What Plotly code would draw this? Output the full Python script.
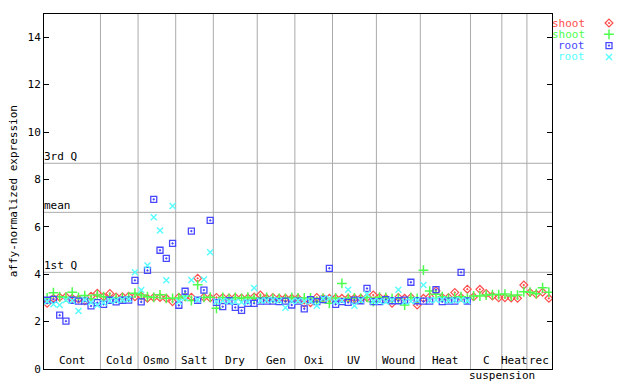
import plotly.graph_objects as go

# ---------------- data ----------------
groups = ["Cont", "Cold", "Osmo", "Salt", "Dry", "Gen", "Oxi", "UV", "Wound", "Heat", "C", "Heat", "rec"]
group_sizes = [9, 6, 6, 6, 7, 6, 6, 7, 7, 8, 5, 4, 4]

shoot_a = [2.77, 2.98, 3.03, 3.05, 2.98, 2.95, 2.88, 3.07, 3.20,
           3.05, 3.19, 3.04, 3.05, 3.07, 3.05,
           3.08, 2.99, 3.02, 3.02, 2.98, 2.84,
           3.03, 3.05, 3.03, 3.83, 3.03, 3.00,
           3.02, 3.02, 3.00, 3.02, 3.00, 3.00, 3.04,
           3.12, 2.98, 3.02, 2.98, 2.98, 2.98,
           2.98, 2.77, 2.80, 3.02, 2.98, 2.98,
           2.98, 2.98, 2.98, 2.98, 2.98, 3.02, 3.12,
           3.02, 2.98, 2.77, 3.02, 2.98, 3.02, 2.70,
           2.98, 3.05, 3.30, 3.02, 3.02, 3.23, 3.02, 3.37,
           3.05, 3.36, 3.19, 3.08, 3.01,
           3.01, 3.00, 2.98, 3.54,
           3.23, 3.15, 3.24, 2.98]
shoot_b = [3.00, 3.22, 3.05, 3.03, 3.24, 3.02, 3.10, 2.95, 3.12,
           3.05, 3.02, 2.98, 3.00, 3.03, 3.20,
           3.12, 3.05, 3.02, 3.13, 2.98, 2.98,
           3.00, 3.07, 2.89, 3.55, 3.02, 3.03,
           2.56, 3.02, 2.98, 3.02, 2.98, 3.03, 2.98,
           2.98, 3.02, 2.98, 2.98, 2.98, 3.02,
           3.00, 3.00, 3.00, 2.84, 2.98, 2.77,
           3.00, 3.61, 2.98, 3.00, 2.98, 3.02, 2.84,
           3.03, 3.02, 2.98, 2.98, 2.70, 3.02, 2.98,
           4.17, 3.29, 3.15, 3.05, 2.98, 3.02, 3.05, 2.98,
           3.08, 3.08, 3.12, 3.14, 3.14,
           3.16, 3.08, 3.12, 3.26,
           3.24, 3.18, 3.43, 3.24]
root_a = [2.90, 2.94, 2.27, 2.02, 2.90, 2.86, 2.86, 2.66, 2.80,
          2.73, 2.90, 2.83, 2.90, 2.91, 3.74,
          2.83, 4.16, 7.16, 5.01, 4.67, 5.30,
          2.69, 3.28, 5.82, 2.90, 3.33, 6.27,
          2.81, 2.63, 2.88, 2.60, 2.47, 2.77, 2.77,
          2.86, 2.86, 2.86, 2.84, 2.86, 2.70,
          2.86, 2.54, 2.93, 2.84, 2.93, 4.25,
          2.73, 2.84, 2.81, 2.91, 2.88, 3.40, 2.84,
          2.84, 2.93, 2.88, 2.88, 2.91, 3.66, 2.88,
          2.86, 2.86, 3.35, 2.84, 2.86, 2.86, 4.08, 2.87,
          None, None, None, None, None,
          None, None, None, None,
          None, None, None, None]
root_b = [2.85, 2.73, 2.70, 2.91, 2.88, 2.45, 2.92, 2.82, 2.70,
          2.80, 2.88, 2.90, 2.92, 2.95, 4.08,
          3.33, 4.37, 6.40, 5.84, 3.74, 6.88,
          2.85, 3.00, 3.76, 2.92, 3.78, 4.93,
          2.85, 2.88, 2.85, 2.84, 2.82, 2.84, 3.42,
          2.88, 2.90, 2.92, 2.88, 2.58, 2.86,
          2.88, 2.86, 2.85, 2.67, 2.98, 2.98,
          2.85, 2.88, 3.34, 2.67, 2.90, 3.16, 2.86,
          2.86, 2.84, 2.91, 3.34, 2.84, 2.86, 2.91,
          3.54, 2.90, 2.91, 2.93, 2.88, 2.90, 2.91, 2.88,
          None, None, None, None, None,
          None, None, None, None,
          None, None, None, None]

quartile_labels = ["1st Q", "mean", "3rd Q"]
quartile_values = [4.08, 6.61, 8.68]

series_names = ["shoot", "shoot", "root", "root"]
series_values = [shoot_a, shoot_b, root_a, root_b]

# ---------------- styles ----------------
colors = ["#ff4d4d", "#4dff4d", "#4848ff", "#55ffff"]
symbols = ["diamond-open-dot", "cross-thin-open", "square-open-dot", "x-thin-open"]
sizes = [6, 7, 6, 6]
widths = [1.2, 1.5, 1.3, 1.4]
FONT = "DejaVu Sans Mono"
FS = 11
GRID = "#aaaaaa"

W, H = 640, 384
OFF = 8  # page body margin of the browser
PL, PR, PT, PB = 44 - OFF, 552 - OFF, 13.5 - OFF, 369 - OFF  # plot box in figure pixels

n = len(shoot_a)
xs = list(range(n))

fig = go.Figure()
for name, vals, c, s, sz, lw in zip(series_names, series_values, colors, symbols, sizes, widths):
    fig.add_trace(go.Scatter(
        x=xs, y=vals, mode="markers", name=name, showlegend=False,
        marker=dict(symbol=s, size=sz, color=c, line=dict(color=c, width=lw)),
        cliponaxis=True,
    ))

# group separators and labels
bounds = []
acc = 0
for g, k in zip(groups, group_sizes):
    start = acc
    acc += k
    center = (start + acc - 1) / 2
    fig.add_annotation(x=center, y=0, xref="x", yref="y", text=g, showarrow=False,
                       xanchor="center", yanchor="bottom", yshift=0,
                       font=dict(family=FONT, size=FS, color="black"))
    if acc < n:
        bounds.append(acc - 0.5)

for b in bounds:
    fig.add_shape(type="line", xref="x", yref="y domain", x0=b, x1=b, y0=0, y1=1,
                  line=dict(color=GRID, width=1), layer="below")

# "suspension" beneath the C group
c_idx = groups.index("C")
c_end = sum(group_sizes[:c_idx + 1]) - 0.5
fig.add_annotation(x=c_end, y=0, xref="x", yref="y", text="suspension", showarrow=False,
                   xanchor="center", yanchor="top", yshift=1, borderpad=0,
                   font=dict(family=FONT, size=FS, color="black"))

# quartile lines
for lab, v in zip(quartile_labels, quartile_values):
    fig.add_shape(type="line", xref="x domain", yref="y", x0=0, x1=1, y0=v, y1=v,
                  line=dict(color=GRID, width=1), layer="below")
    fig.add_annotation(x=0, y=v, xref="x domain", yref="y", text=lab, showarrow=False,
                       xanchor="left", yanchor="bottom", yshift=-2, xshift=-2,
                       font=dict(family=FONT, size=FS, color="black"))

# y title
fig.add_annotation(x=(13 - OFF) / W, y=1 - ((PT + PB) / 2) / H, xref="paper", yref="paper",
                   text="affy-normalized expression", textangle=-90, showarrow=False,
                   xanchor="center", yanchor="middle", borderpad=0,
                   font=dict(family=FONT, size=FS, color="black"))

# custom legend (text then marker) on a pixel-space helper axis
row_h = 11.3
row0 = 23 - OFF
for i, (name, c, s, sz, lw) in enumerate(zip(series_names, colors, symbols, sizes, widths)):
    yy = row0 + i * row_h
    fig.add_annotation(x=586 - OFF - PR, y=yy, xref="x2", yref="y2", text=name, showarrow=False,
                       xanchor="right", yanchor="middle", borderpad=0,
                       font=dict(family=FONT, size=FS, color=c))
    fig.add_trace(go.Scatter(x=[609 - OFF - PR], y=[yy], xaxis="x2", yaxis="y2", mode="markers",
                             showlegend=False, hoverinfo="skip",
                             marker=dict(symbol=s, size=sz, color=c, line=dict(color=c, width=lw))))

fig.update_layout(
    width=W, height=H, autosize=False,
    margin=dict(l=0, r=0, t=0, b=0, autoexpand=False),
    paper_bgcolor="white", plot_bgcolor="white",
    showlegend=False,
    xaxis=dict(domain=[PL / W, PR / W], range=[-0.5, n - 0.5], showgrid=False, zeroline=False,
               showticklabels=False, ticks="", showline=True, linecolor="black", linewidth=1,
               mirror=True, fixedrange=True, automargin=False),
    yaxis=dict(domain=[1 - PB / H, 1 - PT / H], range=[0, 15], showgrid=False, zeroline=False,
               tickvals=list(range(0, 15, 2)), ticks="inside", ticklen=5, tickcolor="black",
               showline=True, linecolor="black", linewidth=1, mirror="ticks",
               tickfont=dict(family=FONT, size=FS, color="black"), fixedrange=True,
               automargin=False),
    xaxis2=dict(domain=[PR / W, 1], range=[0, W - PR], visible=False, anchor="y2",
                automargin=False),
    yaxis2=dict(domain=[0, 1], range=[H, 0], visible=False, anchor="x2", automargin=False),
)

fig.write_html("out.html")
